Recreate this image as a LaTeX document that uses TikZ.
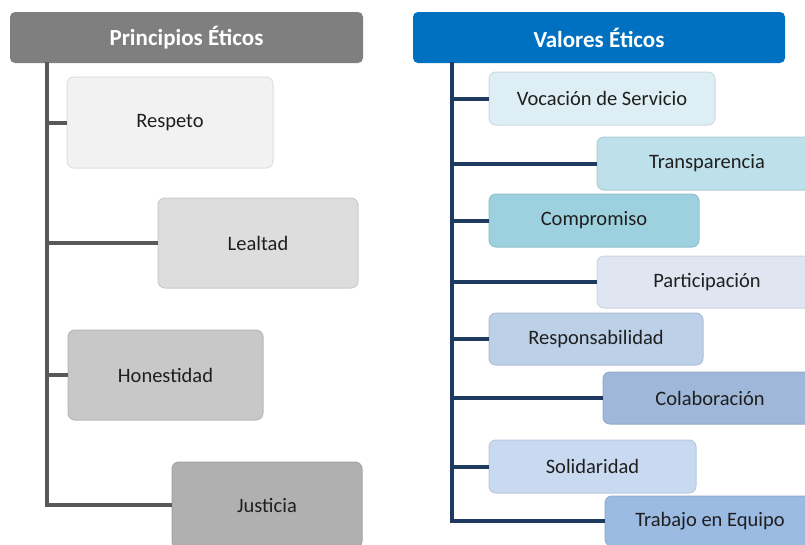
\documentclass[tikz,border=0pt]{standalone}
\usepackage{fontspec}
\setmainfont{Carlito}
\definecolor{hgray}{HTML}{7F7F7F}
\definecolor{hblue}{HTML}{0070C0}
\definecolor{tgray}{HTML}{595959}
\definecolor{tnavy}{HTML}{1F3A60}
\definecolor{g1}{HTML}{F2F2F2}
\definecolor{g2}{HTML}{DDDDDD}
\definecolor{g3}{HTML}{C8C8C8}
\definecolor{g4}{HTML}{B0B0B0}
\definecolor{b1}{HTML}{DDEEF4}
\definecolor{b2}{HTML}{BDE0EA}
\definecolor{b3}{HTML}{9ED1DF}
\definecolor{b4}{HTML}{DFE6F2}
\definecolor{b5}{HTML}{BCD0E8}
\definecolor{b6}{HTML}{9FB7D9}
\definecolor{b7}{HTML}{C9DAF0}
\definecolor{b8}{HTML}{9BBBE3}
\begin{document}
\begin{tikzpicture}[x=1pt,y=-1pt,
  hdr/.style={rounded corners=5pt, text=white, inner sep=0pt,
    font=\bfseries\fontsize{23}{26}\selectfont},
  itm/.style={rounded corners=7pt, inner sep=0pt, text=black!88,
    font=\fontsize{20.5}{24}\selectfont},
  itmc/.style={itm, fill=#1, draw=#1!92!black, line width=1pt},
  trunkg/.style={draw=tgray, line width=4pt},
  trunkb/.style={draw=tnavy, line width=4pt}
]
\useasboundingbox (0,0) rectangle (805,544);
\clip (0,0) rectangle (805,544);
\fill[white] (0,0) rectangle (805,544);

% headers
\node[hdr, fill=hgray, minimum width=353pt, minimum height=51pt] (hp) at (186.5,37.5) {Principios Éticos};
\node[hdr, fill=hblue, minimum width=372pt, minimum height=51pt] (hv) at (599,37.5) {Valores Éticos};

% left items
\node[itmc=g1, minimum width=206pt, minimum height=91pt] (respeto) at (170,122.5) {Respeto};
\node[itmc=g2, minimum width=200pt, minimum height=90pt] (lealtad) at (258,243) {Lealtad};
\node[itmc=g3, minimum width=195pt, minimum height=90pt] (honestidad) at (165.5,375) {Honestidad};
\node[itmc=g4, minimum width=190pt, minimum height=86pt] (justicia) at (267,505) {Justicia};

% right items
\node[itmc=b1, minimum width=226pt, minimum height=53pt] (vocacion) at (602,98.5) {Vocación de Servicio};
\node[itmc=b2, minimum width=220pt, minimum height=53pt] (transp) at (707,163.5) {Transparencia};
\node[itmc=b3, minimum width=210pt, minimum height=53pt] (compromiso) at (594,220.5) {Compromiso};
\node[itmc=b4, minimum width=220pt, minimum height=52pt] (particip) at (707,282) {Participación};
\node[itmc=b5, minimum width=214pt, minimum height=52pt] (respons) at (596,339) {Responsabilidad};
\node[itmc=b6, minimum width=214pt, minimum height=52pt] (colab) at (710,398) {Colaboración};
\node[itmc=b7, minimum width=207pt, minimum height=53pt] (solid) at (592.5,466.5) {Solidaridad};
\node[itmc=b8, minimum width=210pt, minimum height=50pt] (trabajo) at (710,521) {Trabajo en Equipo};

% trunks
\coordinate (lt) at (47,62);
\coordinate (rt) at (452,62);
\foreach \n in {respeto,lealtad,honestidad,justicia}
  \draw[trunkg] (lt) |- (\n.west);
\foreach \n in {vocacion,transp,compromiso,particip,respons,colab,solid,trabajo}
  \draw[trunkb] (rt) |- (\n.west);
\end{tikzpicture}
\end{document}
